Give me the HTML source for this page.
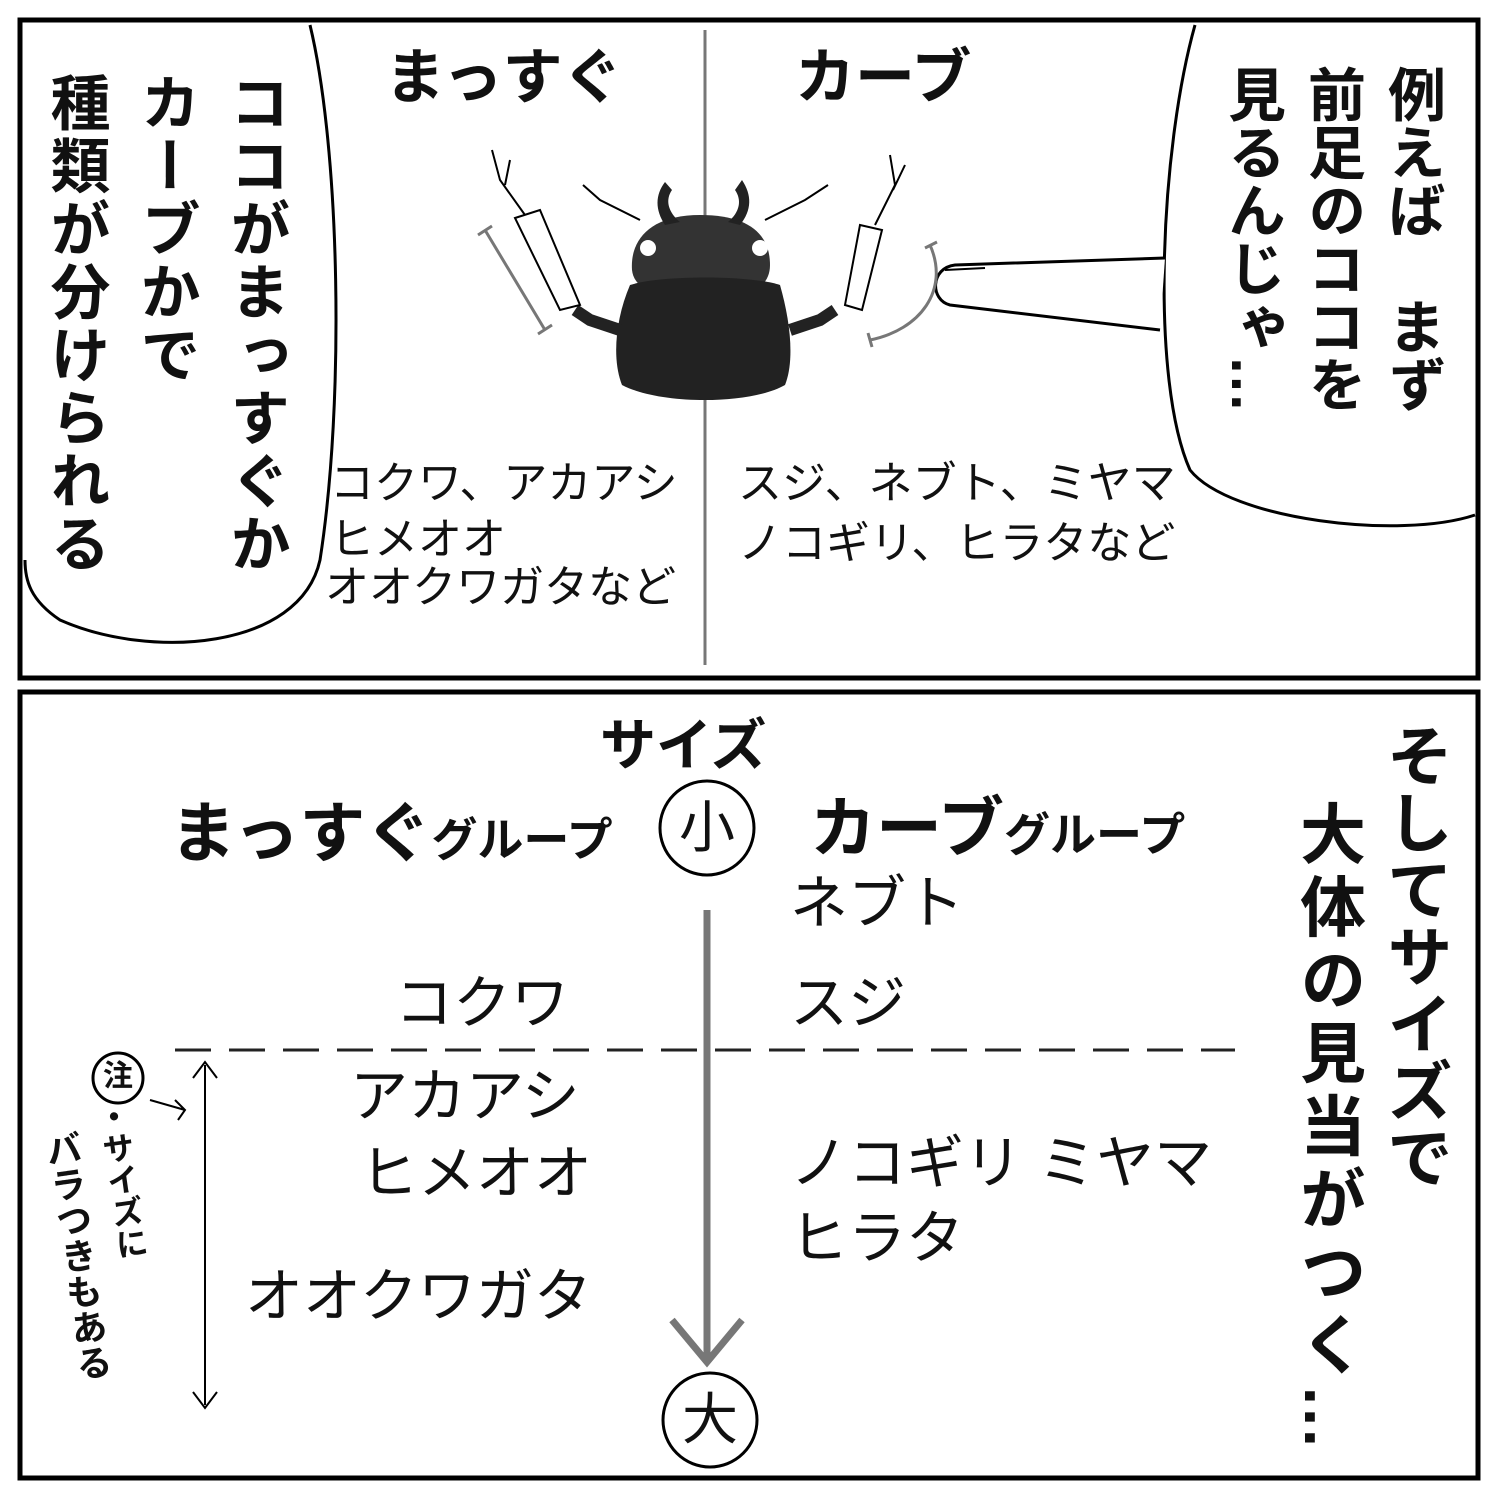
<!DOCTYPE html>
<html><head><meta charset="utf-8"><style>
body{margin:0;background:#fff;}
#c{position:relative;width:1500px;height:1500px;overflow:hidden;font-family:"Liberation Sans","Noto Sans CJK JP",sans-serif;color:#111;}
.a{position:absolute;white-space:nowrap;line-height:1;}
.v{position:absolute;writing-mode:vertical-rl;line-height:1;white-space:nowrap;}
.b{font-weight:bold;}
</style></head><body><div id="c">
<svg width="1500" height="1500" style="position:absolute;left:0;top:0">
<rect x="20" y="20" width="1458" height="658" fill="none" stroke="#000" stroke-width="5"/>
<rect x="20" y="692" width="1458" height="786" fill="none" stroke="#000" stroke-width="5"/>
<line x1="705" y1="30" x2="705" y2="665" stroke="#777" stroke-width="3"/>
<path d="M310 25 C340 150 345 400 320 560 C300 650 150 660 60 620 C30 600 25 580 25 560" fill="none" stroke="#000" stroke-width="3"/>
<path d="M1195 25 C1160 150 1150 380 1190 470 C1230 520 1400 540 1475 515" fill="none" stroke="#000" stroke-width="3"/>
<path d="M1165 258 L955 265 C930 268 930 300 950 305 L1160 330" fill="#fff" stroke="#000" stroke-width="3"/>
<path d="M945 270 L985 268" stroke="#000" stroke-width="2"/>
<path d="M700 215 C650 215 630 240 632 270 C634 290 660 300 700 300 C745 300 770 290 770 265 C770 235 750 215 700 215 Z" fill="#333"/>
<path d="M630 285 C660 275 750 275 780 285 C790 320 795 360 785 385 C750 405 660 405 622 385 C612 360 615 320 630 285 Z" fill="#222"/>
<path d="M665 225 C655 210 655 195 665 182 L672 190 C665 200 668 212 680 222 Z M740 225 C752 210 752 195 742 180 L735 190 C742 200 740 212 728 222 Z" fill="#222"/>
<circle cx="648" cy="248" r="8" fill="#fff"/><circle cx="760" cy="248" r="8" fill="#fff"/>
<path d="M620 330 L590 320 L575 310" stroke="#222" stroke-width="12" fill="none"/>
<path d="M790 330 L820 320 L835 310" stroke="#222" stroke-width="12" fill="none"/>
<path d="M515 218 L540 210 L580 305 L560 310 Z" fill="#fff" stroke="#000" stroke-width="2"/>
<path d="M860 225 L882 230 L862 310 L845 305 Z" fill="#fff" stroke="#000" stroke-width="2"/>
<path d="M525 215 L500 180 L492 150 M505 185 L510 160" stroke="#000" stroke-width="2" fill="none"/>
<path d="M875 225 L895 185 L890 155 M893 190 L905 165" stroke="#000" stroke-width="2" fill="none"/>
<path d="M640 220 L600 200 L583 185 M765 220 L805 200 L828 185" stroke="#000" stroke-width="2" fill="none"/>
<path d="M485 230 L545 330 M478 235 L492 226 M538 334 L552 325" stroke="#777" stroke-width="3" fill="none"/>
<path d="M930 245 C950 290 920 330 870 340 M925 248 L937 242 M868 333 L872 347" stroke="#777" stroke-width="3" fill="none"/>
<circle cx="707" cy="828" r="47" fill="none" stroke="#000" stroke-width="3"/>
<circle cx="710" cy="1420" r="47" fill="none" stroke="#000" stroke-width="3"/>
<line x1="707" y1="910" x2="707" y2="1360" stroke="#777" stroke-width="7"/>
<path d="M672 1320 L707 1362 L742 1320" stroke="#777" stroke-width="7" fill="none"/>
<line x1="175" y1="1050" x2="1235" y2="1050" stroke="#222" stroke-width="3" stroke-dasharray="36,18"/>
<line x1="205" y1="1065" x2="205" y2="1405" stroke="#000" stroke-width="2"/>
<path d="M193 1078 L205 1062 L217 1078 M193 1392 L205 1408 L217 1392" stroke="#000" stroke-width="2" fill="none"/>
<circle cx="118" cy="1078" r="25" fill="none" stroke="#000" stroke-width="3"/>
<path d="M150 1100 L185 1110 M175 1100 L185 1110 L178 1120" stroke="#000" stroke-width="2" fill="none"/>
</svg>
<div class="v b" style="left:225px;top:72px;font-size:60px;letter-spacing:3px">ココがまっすぐか</div>
<div class="v b" style="left:135px;top:72px;font-size:60px;letter-spacing:3px">カーブかで</div>
<div class="v b" style="left:45px;top:72px;font-size:60px;letter-spacing:3px">種類が分けられる</div>
<div class="v b" style="left:1382px;top:65px;font-size:58px">例えば　まず</div>
<div class="v b" style="left:1302px;top:65px;font-size:58px">前足のココを</div>
<div class="v b" style="left:1222px;top:65px;font-size:58px">見るんじゃ…</div>
<div class="a b" style="left:385px;top:48px;font-size:60px">まっすぐ</div>
<div class="a b" style="left:795px;top:48px;font-size:60px">カーブ</div>
<div class="a" style="left:330px;top:462px;font-size:44px">コクワ、アカアシ</div>
<div class="a" style="left:330px;top:518px;font-size:44px">ヒメオオ</div>
<div class="a" style="left:325px;top:566px;font-size:44px">オオクワガタなど</div>
<div class="a" style="left:738px;top:462px;font-size:44px">スジ、ネブト、ミヤマ</div>
<div class="a" style="left:738px;top:522px;font-size:44px">ノコギリ、ヒラタなど</div>
<div class="a b" style="left:600px;top:718px;font-size:56px">サイズ</div>
<div class="a b" style="left:170px;top:800px;font-size:66px">まっすぐ<span style="font-size:46px">グループ</span></div>
<div class="a b" style="left:810px;top:795px;font-size:66px">カーブ<span style="font-size:46px">グループ</span></div>
<div class="a" style="left:679px;top:800px;font-size:56px">小</div>
<div class="a" style="left:682px;top:1392px;font-size:56px">大</div>
<div class="a" style="left:790px;top:875px;font-size:58px">ネブト</div>
<div class="a" style="left:395px;top:975px;font-size:58px">コクワ</div>
<div class="a" style="left:790px;top:975px;font-size:58px">スジ</div>
<div class="a" style="left:350px;top:1068px;font-size:58px">アカアシ</div>
<div class="a" style="left:360px;top:1145px;font-size:58px">ヒメオオ</div>
<div class="a" style="left:790px;top:1135px;font-size:58px">ノコギリ ミヤマ</div>
<div class="a" style="left:790px;top:1210px;font-size:58px">ヒラタ</div>
<div class="a" style="left:245px;top:1268px;font-size:58px">オオクワガタ</div>
<div class="v b" style="left:1382px;top:722px;font-size:66px;letter-spacing:1px">そしてサイズで</div>
<div class="v b" style="left:1295px;top:800px;font-size:66px;letter-spacing:7px">大体の見当がつく…</div>
<div class="a b" style="left:103px;top:1062px;font-size:30px">注</div>
<div class="v b" style="left:105px;top:1100px;font-size:32px;transform:rotate(-8deg)">・サイズに</div>
<div class="v b" style="left:58px;top:1130px;font-size:36px;transform:rotate(-8deg)">バラつきもある</div>
</div></body></html>
